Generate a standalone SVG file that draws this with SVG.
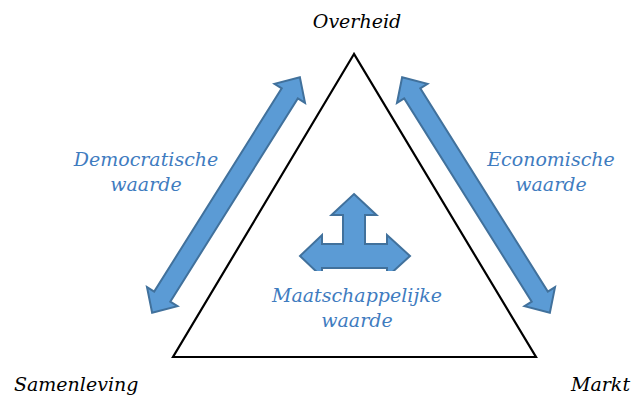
<svg xmlns="http://www.w3.org/2000/svg" width="632" height="396" viewBox="0 0 632 396">
<style>
.lbl{font-family:"DejaVu Serif","Liberation Serif",serif;font-style:italic;font-size:19px;}
.black{fill:#000;}
.blue{fill:#3F7CBF;}
.arrow{fill:#5B9BD5;stroke:#41719C;stroke-width:2;stroke-linejoin:miter;}
</style>
<defs>
<path id="dblArrow" d="M-139,0 L-120,-18 L-120,-9.5 L120,-9.5 L120,-18 L139,0 L120,18 L120,9.5 L-120,9.5 L-120,18 Z"/>
</defs>
<rect width="632" height="396" fill="#fff"/>
<g id="triangle">
<polygon points="354,54 173,357 536,357" fill="#fff" stroke="#000" stroke-width="2.2" stroke-linejoin="miter"/>
</g>
<g id="connectors">
<use href="#dblArrow" class="arrow" transform="translate(226,195) rotate(-57.9)"/>
<use href="#dblArrow" class="arrow" transform="translate(476,195) rotate(57.9)"/>
</g>
<g id="center-arrow">
<path class="arrow" d="M354,194 L376.5,215 L365,215 L365,244 L387,244 L387,235 L410,256 L387,277 L387,268 L322,268 L322,277 L300,256 L322,235 L322,244 L343,244 L343,215 L331.5,215 Z"/>
<rect x="285" y="271" width="140" height="14" fill="#fff"/>
</g>
<g id="overheid"><text class="lbl black" x="357" y="28" text-anchor="middle">Overheid</text></g>
<g id="samenleving"><text class="lbl black" x="14" y="391">Samenleving</text></g>
<g id="markt"><text class="lbl black" x="571" y="391">Markt</text></g>
<g id="democratische">
<text class="lbl blue" x="146" y="166" text-anchor="middle">Democratische</text>
<text class="lbl blue" x="146" y="191" text-anchor="middle">waarde</text>
</g>
<g id="economische">
<text class="lbl blue" x="551" y="166" text-anchor="middle">Economische</text>
<text class="lbl blue" x="551" y="191" text-anchor="middle">waarde</text>
</g>
<g id="maatschappelijke">
<text class="lbl blue" x="357" y="302" text-anchor="middle">Maatschappelijke</text>
<text class="lbl blue" x="357" y="327" text-anchor="middle">waarde</text>
</g>
</svg>
